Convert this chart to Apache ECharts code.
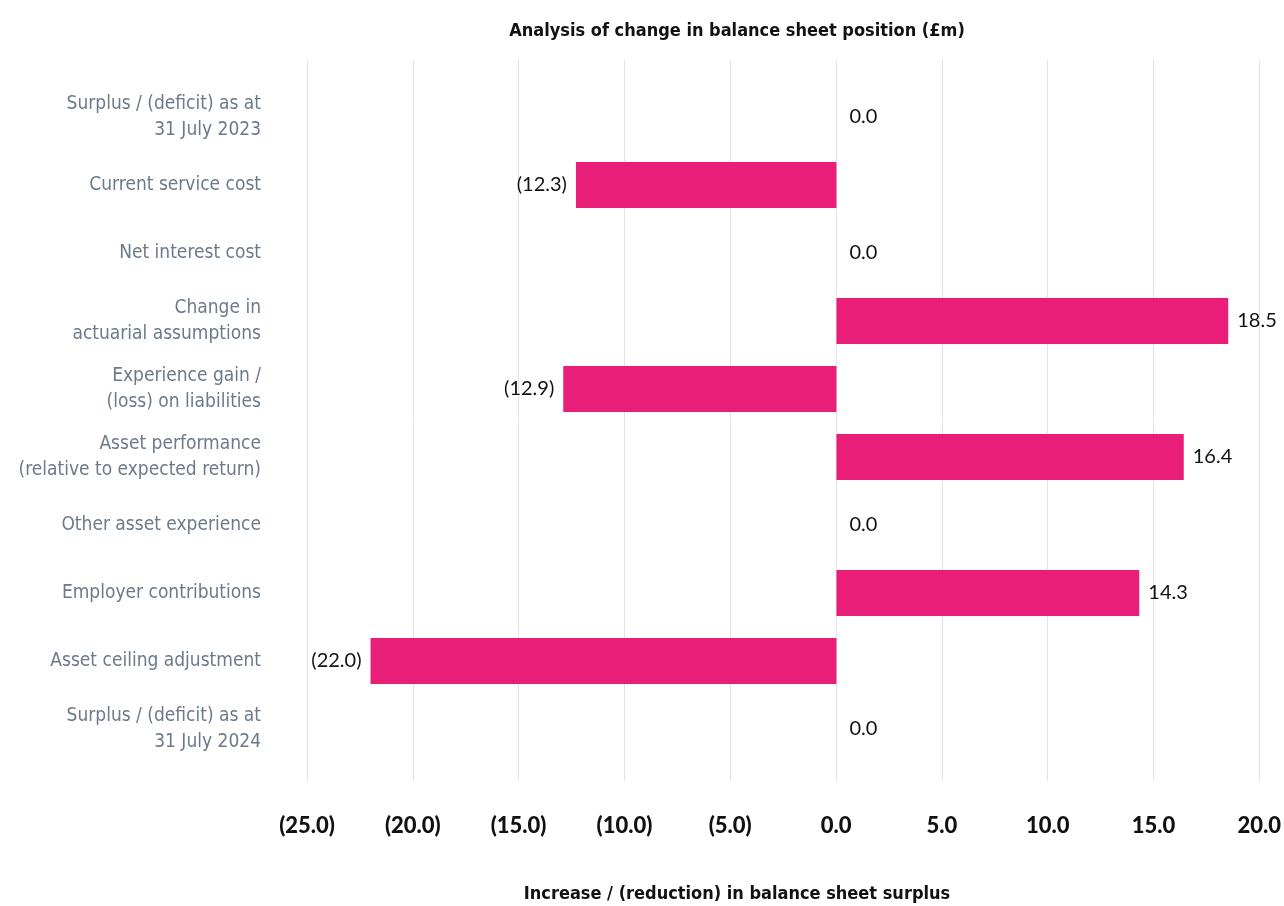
<!DOCTYPE html>
<html>
<head>
<meta charset="utf-8">
<script src="https://cdn.jsdelivr.net/npm/echarts@6/dist/echarts.min.js"></script>
<style>
  html, body { margin: 0; padding: 0; background: #fff; }
  #main { width: 1284px; height: 906px; }
</style>
</head>
<body>
<div id="main"></div>
<script>
// 类目（从上到下）
const categories = [
    'Surplus / (deficit) as at\n31 July 2023',
    'Current service cost',
    'Net interest cost',
    'Change in\nactuarial assumptions',
    'Experience gain /\n(loss) on liabilities',
    'Asset performance\n(relative to expected return)',
    'Other asset experience',
    'Employer contributions',
    'Asset ceiling adjustment',
    'Surplus / (deficit) as at\n31 July 2024'
];
// 变动值 (£m)
const values = [0.0, -12.3, 0.0, 18.5, -12.9, 16.4, 0.0, 14.3, -22.0, 0.0];
// 横轴范围
const xMin = -25;
const xMax = 20;
const xStep = 5;

const fmt = (v) => v < 0 ? '(' + Math.abs(v).toFixed(1) + ')' : v.toFixed(1);

const chart = echarts.init(document.getElementById('main'));
const condensed = '"Liberation Sans Narrow", "DejaVu Sans Condensed", Roboto, sans-serif';
const numFont = 'Lato, "Noto Sans", sans-serif';
const option = {
    animation: false,
    title: [
        {
            text: 'Analysis of change in balance sheet position (£m)',
            left: 732,
            top: 17,
            textAlign: 'center',
            textStyle: { fontFamily: condensed, fontWeight: 'bold', fontSize: 18, color: '#111' }
        },
        {
            text: 'Increase / (reduction) in balance sheet surplus',
            left: 732,
            top: 880,
            textAlign: 'center',
            textStyle: { fontFamily: condensed, fontWeight: 'bold', fontSize: 18, color: '#111' }
        }
    ],
    grid: [
        // 背景网格线 + 刻度
        { left: 307, right: 24, top: 60, height: 721, containLabel: false },
        // 条形
        { left: 307, right: 24, top: 83, height: 680, containLabel: false }
    ],
    xAxis: [
        {
            gridIndex: 0,
            type: 'value',
            min: xMin,
            max: xMax,
            interval: xStep,
            axisLine: { show: false },
            axisTick: { show: false },
            splitLine: { lineStyle: { color: '#e3e3e6', width: 1 } },
            axisLabel: {
                margin: 34,
                fontFamily: numFont,
                fontWeight: 900,
                fontSize: 22,
                color: '#111',
                formatter: fmt
            }
        },
        {
            gridIndex: 1,
            type: 'value',
            min: xMin,
            max: xMax,
            interval: xStep,
            show: false
        }
    ],
    yAxis: [
        { gridIndex: 0, type: 'value', show: false },
        {
            gridIndex: 1,
            type: 'category',
            inverse: true,
            data: categories,
            axisLine: { show: false },
            axisTick: { show: false },
            splitLine: { show: false },
            axisLabel: {
                margin: 46,
                fontFamily: condensed,
                fontSize: 19,
                lineHeight: 26,
                color: '#6b7a8b',
                align: 'right'
            }
        }
    ],
    series: [
        {
            type: 'bar',
            xAxisIndex: 1,
            yAxisIndex: 1,
            barWidth: 46,
            data: values.map(v => ({
                value: v,
                label: {
                    position: v < 0 ? 'left' : 'right',
                    distance: v === 0 ? 13 : 9
                }
            })),
            itemStyle: { color: '#e81e79' },
            label: {
                show: true,
                fontFamily: numFont,
                fontSize: 20,
                color: '#111',
                formatter: p => fmt(p.value)
            }
        }
    ]
};
chart.setOption(option);
</script>
</body>
</html>
